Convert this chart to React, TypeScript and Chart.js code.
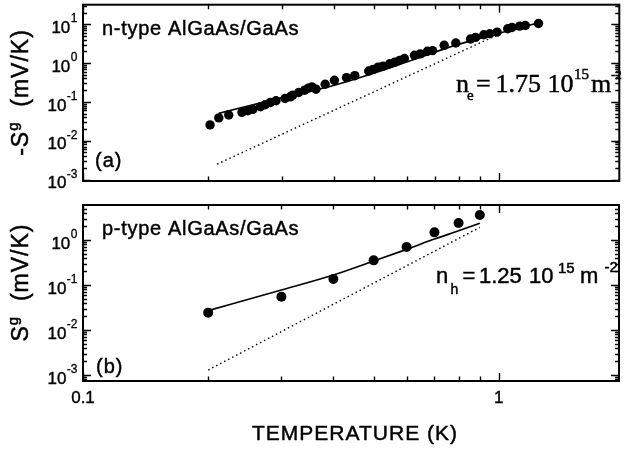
import React, { useEffect, useRef } from 'react';
import { Chart, registerables } from 'chart.js';

Chart.register(...registerables);

// ---------------- data ----------------
// (a) n-type AlGaAs/GaAs : measured points
const nTypeT = [0.202, 0.212, 0.224, 0.241, 0.249, 0.256, 0.267, 0.274, 0.282, 0.291, 0.306, 0.315, 0.319, 0.330, 0.341, 0.348, 0.355, 0.363, 0.382, 0.402, 0.430, 0.450, 0.486, 0.498, 0.512, 0.526, 0.546, 0.561, 0.576, 0.592, 0.626, 0.647, 0.673, 0.692, 0.738, 0.787, 0.854, 0.878, 0.919, 0.950, 0.989, 1.049, 1.074, 1.120, 1.156, 1.244];
const nTypeS = [0.0255, 0.0386, 0.0460, 0.0538, 0.0593, 0.0641, 0.0750, 0.0843, 0.0967, 0.107, 0.122, 0.135, 0.149, 0.174, 0.200, 0.225, 0.243, 0.212, 0.284, 0.359, 0.420, 0.472, 0.622, 0.686, 0.786, 0.834, 0.956, 1.05, 1.16, 1.31, 1.59, 1.72, 2.01, 2.09, 2.86, 3.28, 4.15, 4.58, 5.36, 5.68, 6.26, 7.62, 8.24, 8.91, 9.26, 10.4];
// (a) solid theory curve
const nFitT = [0.212, 0.301, 0.396, 0.476, 0.614, 0.794, 0.989, 1.232];
const nFitS = [0.0506, 0.1295, 0.257, 0.463, 1.165, 2.98, 5.69, 10.6];
// (a) dotted curve
const nBareT = [0.21, 1.0];
const nBareS = [0.00249, 5.56];

// (b) p-type AlGaAs/GaAs : measured points
const pTypeT = [0.2, 0.3, 0.4, 0.5, 0.6, 0.7, 0.8, 0.9];
const pTypeS = [0.0243, 0.055, 0.136, 0.353, 0.70, 1.48, 2.39, 3.59];
// (b) solid theory curve
const pFitT = [0.2, 0.3, 0.4, 0.5, 0.6, 0.7, 0.8, 0.9];
const pFitS = [0.0269, 0.0775, 0.167, 0.341, 0.62, 1.05, 1.6, 2.35];
// (b) dotted curve
const pBareT = [0.2, 0.9];
const pBareS = [0.00129, 1.91];

// tick labels
const topYExps = [1, 0, -1, -2, -3];
const botYExps = [0, -1, -2, -3];
const xTickVals = [0.1, 1];
const xTickText = ['0.1', '1'];

// ---------------- helpers ----------------
const SANS = "'Liberation Sans', Arial, Helvetica, sans-serif";
const SERIF = "'Liberation Serif', 'Times New Roman', serif";

const zip = (xs: number[], ys: number[]) => xs.map((x, i) => ({ x, y: ys[i] }));

function txt(ctx: CanvasRenderingContext2D, s: string, x: number, y: number, font: string, align: CanvasTextAlign = 'left', spacing = '0px', stroke = 0.45) {
  ctx.font = font;
  ctx.textAlign = align;
  ctx.textBaseline = 'alphabetic';
  (ctx as any).letterSpacing = spacing;
  ctx.fillText(s, x, y);
  if (stroke > 0) {
    ctx.lineWidth = stroke;
    ctx.strokeText(s, x, y);
  }
  (ctx as any).letterSpacing = '0px';
}

type Piece = { t: string; size: number; raise?: number };

function rotTitle(ctx: CanvasRenderingContext2D, baseX: number, cy: number, pieces: Piece[], spacing: string) {
  ctx.save();
  ctx.translate(baseX, cy);
  ctx.rotate(-Math.PI / 2);
  ctx.fillStyle = '#000';
  ctx.strokeStyle = '#000';
  ctx.lineWidth = 0.5;
  ctx.textBaseline = 'alphabetic';
  ctx.textAlign = 'left';
  (ctx as any).letterSpacing = spacing;
  let total = 0;
  const widths = pieces.map((p) => {
    ctx.font = `${p.size}px ${SANS}`;
    const w = ctx.measureText(p.t).width;
    total += w;
    return w;
  });
  let x = -total / 2;
  pieces.forEach((p, i) => {
    ctx.font = `${p.size}px ${SANS}`;
    ctx.fillText(p.t, x, -(p.raise || 0));
    ctx.strokeText(p.t, x, -(p.raise || 0));
    x += widths[i];
  });
  (ctx as any).letterSpacing = '0px';
  ctx.restore();
}

type PanelSpec = {
  yMin: number;
  yMax: number;
  padTop: number;
  padBottom: number;
  yExps: number[];
  pointR: number;
  ptsT: number[];
  ptsS: number[];
  fitT: number[];
  fitS: number[];
  bareT: number[];
  bareS: number[];
  extra: (ctx: CanvasRenderingContext2D, chart: any) => void;
};

function framePlugin(p: PanelSpec) {
  return {
    id: 'frame',
    afterDraw(chart: any) {
      const ctx: CanvasRenderingContext2D = chart.ctx;
      const { left, right, top, bottom } = chart.chartArea;
      const xs = chart.scales.x;
      const ys = chart.scales.y;
      ctx.save();
      ctx.strokeStyle = '#000';
      ctx.fillStyle = '#000';
      // ticks (inward, mirrored)
      ctx.lineWidth = 1.4;
      ctx.beginPath();
      for (let e = -1; e <= 0; e++) {
        for (let m = 1; m <= 9; m++) {
          const v = m * Math.pow(10, e);
          if (v < xs.min || v > xs.max) continue;
          const px = Math.round(xs.getPixelForValue(v)) + 0.5;
          const len = m === 1 ? 8 : 4.5;
          ctx.moveTo(px, bottom);
          ctx.lineTo(px, bottom - len);
          ctx.moveTo(px, top);
          ctx.lineTo(px, top + len);
        }
      }
      for (let e = -4; e <= 1; e++) {
        for (let m = 1; m <= 9; m++) {
          const v = m * Math.pow(10, e);
          if (v < ys.min || v > ys.max) continue;
          const py = Math.round(ys.getPixelForValue(v)) + 0.5;
          const len = m === 1 ? 8 : 4;
          ctx.moveTo(left, py);
          ctx.lineTo(left + len, py);
          ctx.moveTo(right, py);
          ctx.lineTo(right - len, py);
        }
      }
      ctx.stroke();
      // frame
      ctx.lineWidth = 2;
      ctx.strokeRect(left, top, right - left, bottom - top);

      // y tick labels (10^n)
      p.yExps.forEach((e) => {
        const py = ys.getPixelForValue(Math.pow(10, e));
        const sup = String(e);
        ctx.font = `12px ${SANS}`;
        const sw = ctx.measureText(sup).width;
        txt(ctx, sup, 77.5, py - 2, `12px ${SANS}`, 'right', '0px', 0.3);
        txt(ctx, '10', 77.5 - sw - 0.5, py + 8.8, `17px ${SANS}`, 'right', '0px', 0.4);
      });

      p.extra(ctx, chart);
      ctx.restore();
    },
  };
}

function buildConfig(p: PanelSpec): any {
  return {
    type: 'scatter',
    data: {
      datasets: [
        {
          data: zip(p.ptsT, p.ptsS),
          showLine: false,
          pointRadius: p.pointR,
          pointBackgroundColor: '#000',
          pointBorderColor: '#000',
          pointBorderWidth: 0,
        },
        {
          data: zip(p.fitT, p.fitS),
          showLine: true,
          pointRadius: 0,
          borderColor: '#000',
          borderWidth: 1.7,
          cubicInterpolationMode: 'monotone',
          fill: false,
        },
        {
          data: zip(p.bareT, p.bareS),
          showLine: true,
          pointRadius: 0,
          borderColor: '#000',
          borderWidth: 1.4,
          borderDash: [1.5, 3],
          fill: false,
        },
      ],
    },
    options: {
      animation: false,
      responsive: false,
      devicePixelRatio: 1,
      events: [],
      layout: { padding: { left: 83, right: 1, top: p.padTop, bottom: p.padBottom } },
      scales: {
        x: { type: 'logarithmic', min: 0.1, max: 1.945, display: false },
        y: { type: 'logarithmic', min: p.yMin, max: p.yMax, display: false },
      },
      plugins: { legend: { display: false }, tooltip: { enabled: false } },
    },
    plugins: [framePlugin(p)],
  };
}

const topSpec: PanelSpec = {
  yMin: 9.16e-4,
  yMax: 31.8,
  padTop: 3,
  padBottom: 19,
  yExps: topYExps,
  pointR: 4.7,
  ptsT: nTypeT,
  ptsS: nTypeS,
  fitT: nFitT,
  fitS: nFitS,
  bareT: nBareT,
  bareS: nBareS,
  extra: (ctx) => {
    rotTitle(ctx, 28, 92.5, [
      { t: '-S', size: 23 },
      { t: 'g', size: 15, raise: 10 },
      { t: '  (mV/K)', size: 23 },
    ], '1px');
    txt(ctx, 'n-type AlGaAs/GaAs', 102, 34.5, `20px ${SANS}`, 'left', '0.7px');
    txt(ctx, '(a)', 95, 166.5, `20px ${SANS}`, 'left', '1px');
    // n_e = 1.75 10^15 m^-2
    const f = `26px ${SERIF}`;
    const fs = `15px ${SERIF}`;
    txt(ctx, 'n', 456, 91.7, f);
    txt(ctx, 'e', 467, 99.5, fs);
    txt(ctx, '=', 476, 91.7, f);
    txt(ctx, '1.75', 495.5, 91.7, f);
    txt(ctx, '10', 547.5, 91.7, f);
    txt(ctx, '15', 574, 78.5, fs);
    txt(ctx, 'm', 591, 91.7, f);
    txt(ctx, '-2', 611, 78.5, `13px ${SERIF}`);
  },
};

const botSpec: PanelSpec = {
  yMin: 7.36e-4,
  yMax: 5.995,
  padTop: 5,
  padBottom: 69,
  yExps: botYExps,
  pointR: 5,
  ptsT: pTypeT,
  ptsS: pTypeS,
  fitT: pFitT,
  fitS: pFitS,
  bareT: pBareT,
  bareS: pBareS,
  extra: (ctx, chart) => {
    rotTitle(ctx, 28, 82.5, [
      { t: 'S', size: 23 },
      { t: 'g', size: 15, raise: 10 },
      { t: '  (mV/K)', size: 23 },
    ], '1px');
    txt(ctx, 'p-type AlGaAs/GaAs', 102, 34.5, `20px ${SANS}`, 'left', '0.7px');
    txt(ctx, '(b)', 96, 173, `20px ${SANS}`, 'left', '1px');
    // n_h = 1.25 10^15 m^-2
    const f = `22px ${SANS}`;
    const fs = `15px ${SANS}`;
    txt(ctx, 'n', 436, 83.3, f);
    txt(ctx, 'h', 450.5, 93.5, `14px ${SANS}`);
    txt(ctx, '=', 462.5, 83.3, f);
    txt(ctx, '1.25', 479, 83.3, f);
    txt(ctx, '10', 529, 83.3, f);
    txt(ctx, '15', 558, 73.3, fs);
    txt(ctx, 'm', 580, 83.3, f);
    txt(ctx, '-2', 604.5, 71.7, fs);
    // x tick labels and title
    const xs = chart.scales.x;
    xTickVals.forEach((v, i) => {
      txt(ctx, xTickText[i], xs.getPixelForValue(v), 203.3, `17px ${SANS}`, 'center', '0px', 0.4);
    });
    txt(ctx, 'TEMPERATURE (K)', 355, 240, `21px ${SANS}`, 'center', '1px');
  },
};

export default function App() {
  const topRef = useRef<HTMLCanvasElement>(null);
  const botRef = useRef<HTMLCanvasElement>(null);
  useEffect(() => {
    const c1 = new Chart(topRef.current as HTMLCanvasElement, buildConfig(topSpec));
    const c2 = new Chart(botRef.current as HTMLCanvasElement, buildConfig(botSpec));
    return () => {
      c1.destroy();
      c2.destroy();
    };
  }, []);
  return (
    <div style={{ position: 'fixed', left: 0, top: 0, width: 624, height: 450, background: '#fff', overflow: 'hidden' }}>
      <canvas ref={topRef} width={624} height={200} style={{ position: 'absolute', left: 0, top: 0, width: 624, height: 200 }} />
      <canvas ref={botRef} width={624} height={250} style={{ position: 'absolute', left: 0, top: 200, width: 624, height: 250 }} />
    </div>
  );
}
